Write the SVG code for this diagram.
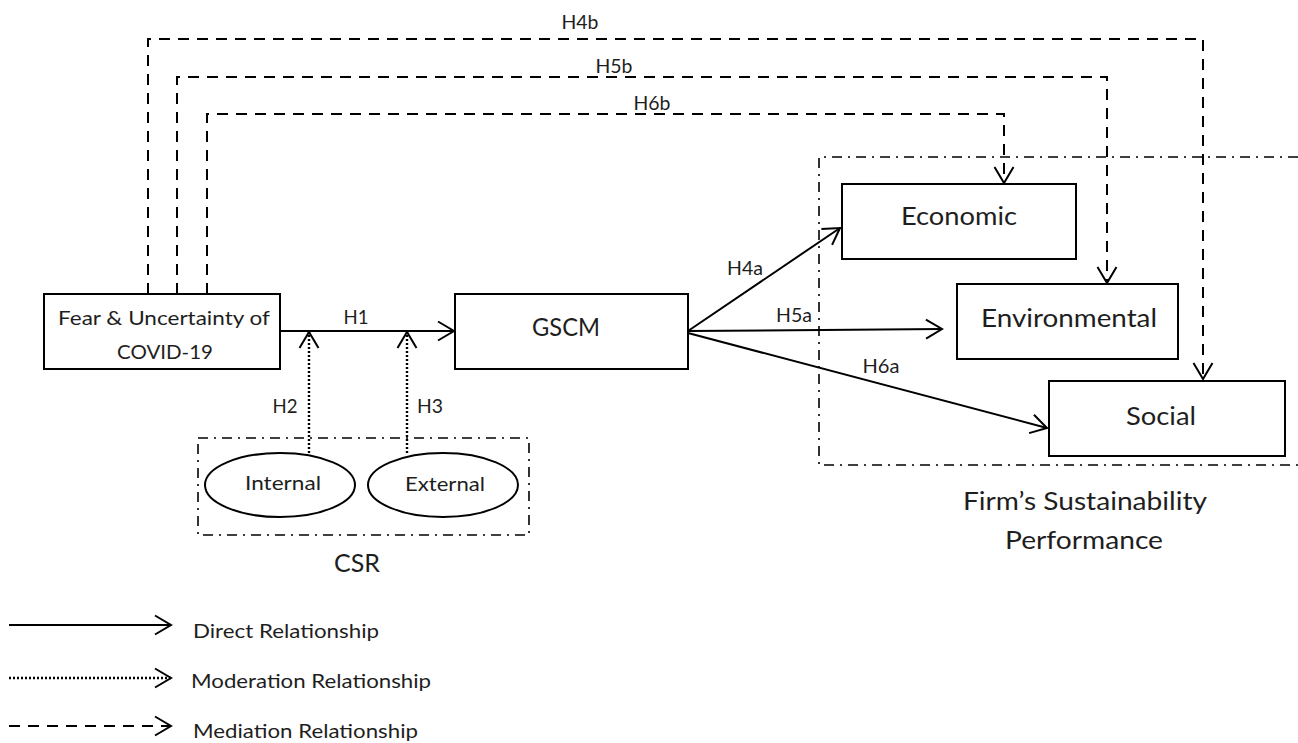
<svg xmlns="http://www.w3.org/2000/svg" width="1298" height="743" viewBox="0 0 1298 743">
  <style>
    text { font-family: Lato, "Open Sans", sans-serif; fill: #1e1e1e; text-anchor: middle; dominant-baseline: central; }
    .box { fill: #fff; stroke: #000; stroke-width: 2; }
    .ell { fill: #fff; stroke: #000; stroke-width: 2; }
    .group { fill: none; stroke: #000; stroke-width: 1.6; stroke-dasharray: 10 6 2 6; }
    .direct { fill: none; stroke: #000; stroke-width: 2; }
    .moder { fill: none; stroke: #000; stroke-width: 2.4; stroke-dasharray: 2 2; }
    .medi { fill: none; stroke: #000; stroke-width: 2; stroke-dasharray: 11 8; }
    .lbl { font-size: 19px; }
    .big { font-size: 25px; }
    .mid { font-size: 20px; }
    .leg { font-size: 20px; text-anchor: start; }
  </style>
  <defs>
    <marker id="chev" viewBox="-19 -12 21 24" refX="0" refY="0" markerWidth="21" markerHeight="24" orient="auto" markerUnits="userSpaceOnUse">
      <path d="M-16,-9.5 L0,0 L-16,9.5" fill="none" stroke="#000" stroke-width="2"/>
    </marker>
  </defs>

  <!-- grouping frames -->
  <g id="frames">
    <path class="group" d="M1298,157 H819 V465 H1298"/>
    <rect class="group" x="198" y="438" width="331" height="97"/>
  </g>

  <!-- connectors -->
  <g id="connectors">
    <!-- mediation paths -->
    <path class="medi" d="M148,294 V39 H1203 V379" marker-end="url(#chev)"/>
    <path class="medi" d="M177,294 V77 H1107 V283" marker-end="url(#chev)"/>
    <path class="medi" d="M207,294 V114 H1004 V183" marker-end="url(#chev)"/>
    <!-- direct paths -->
    <path class="direct" d="M280,331 H454" marker-end="url(#chev)"/>
    <path class="direct" d="M688,331 L840,228" marker-end="url(#chev)"/>
    <path class="direct" d="M688,331 L942,329" marker-end="url(#chev)"/>
    <path class="direct" d="M688,333 L1047,428" marker-end="url(#chev)"/>
    <!-- moderation paths -->
    <path class="moder" d="M309,453 V332" marker-end="url(#chev)"/>
    <path class="moder" d="M407,453 V332" marker-end="url(#chev)"/>
  </g>

  <!-- connector labels -->
  <g id="labels">
    <text class="lbl" x="580" y="21" textLength="37" lengthAdjust="spacingAndGlyphs">H4b</text>
    <text class="lbl" x="614" y="65" textLength="37" lengthAdjust="spacingAndGlyphs">H5b</text>
    <text class="lbl" x="652" y="102" textLength="37" lengthAdjust="spacingAndGlyphs">H6b</text>
    <text class="lbl" x="356" y="316" textLength="25" lengthAdjust="spacingAndGlyphs">H1</text>
    <text class="lbl" x="285" y="405" textLength="25" lengthAdjust="spacingAndGlyphs">H2</text>
    <text class="lbl" x="430" y="405" textLength="26" lengthAdjust="spacingAndGlyphs">H3</text>
    <text class="lbl" x="745" y="267" textLength="36" lengthAdjust="spacingAndGlyphs">H4a</text>
    <text class="lbl" x="794" y="314" textLength="36" lengthAdjust="spacingAndGlyphs">H5a</text>
    <text class="lbl" x="881" y="365" textLength="37" lengthAdjust="spacingAndGlyphs">H6a</text>
  </g>

  <g id="fear">
    <rect class="box" x="44" y="294" width="236" height="75"/>
    <text class="mid" x="164" y="317" textLength="212" lengthAdjust="spacingAndGlyphs">Fear &amp; Uncertainty of</text>
    <text class="mid" x="165" y="351" textLength="96" lengthAdjust="spacingAndGlyphs">COVID-19</text>
  </g>

  <g id="gscm">
    <rect class="box" x="455" y="294" width="233" height="75"/>
    <text class="big" x="566" y="326" textLength="68" lengthAdjust="spacingAndGlyphs">GSCM</text>
  </g>

  <g id="economic">
    <rect class="box" x="842" y="184" width="234" height="75"/>
    <text class="big" x="959" y="215" textLength="116" lengthAdjust="spacingAndGlyphs">Economic</text>
  </g>

  <g id="environmental">
    <rect class="box" x="957" y="284" width="221" height="75"/>
    <text class="big" x="1069" y="317" textLength="176" lengthAdjust="spacingAndGlyphs">Environmental</text>
  </g>

  <g id="social">
    <rect class="box" x="1049" y="381" width="236" height="75"/>
    <text class="big" x="1161" y="415" textLength="70" lengthAdjust="spacingAndGlyphs">Social</text>
  </g>

  <g id="internal">
    <ellipse class="ell" cx="280" cy="485" rx="75" ry="32"/>
    <text class="mid" x="283" y="482" textLength="76" lengthAdjust="spacingAndGlyphs">Internal</text>
  </g>

  <g id="external">
    <ellipse class="ell" cx="443" cy="485" rx="75" ry="32"/>
    <text class="mid" x="445" y="483" textLength="80" lengthAdjust="spacingAndGlyphs">External</text>
  </g>

  <g id="group-titles">
    <text class="big" x="357" y="562" textLength="46" lengthAdjust="spacingAndGlyphs">CSR</text>
    <text class="big" x="1085" y="500" textLength="244" lengthAdjust="spacingAndGlyphs">Firm’s Sustainability</text>
    <text class="big" x="1084" y="539" textLength="158" lengthAdjust="spacingAndGlyphs">Performance</text>
  </g>

  <!-- legend -->
  <g id="legend">
    <path class="direct" d="M9,625 H171" marker-end="url(#chev)"/>
    <path class="moder" d="M9,678 H171" marker-end="url(#chev)"/>
    <path class="medi" d="M9,726 H171" marker-end="url(#chev)"/>
    <text class="leg" x="193" y="630" textLength="186" lengthAdjust="spacingAndGlyphs">Direct Relationship</text>
    <text class="leg" x="191" y="680" textLength="240" lengthAdjust="spacingAndGlyphs">Moderation Relationship</text>
    <text class="leg" x="193" y="730" textLength="225" lengthAdjust="spacingAndGlyphs">Mediation Relationship</text>
  </g>
</svg>
